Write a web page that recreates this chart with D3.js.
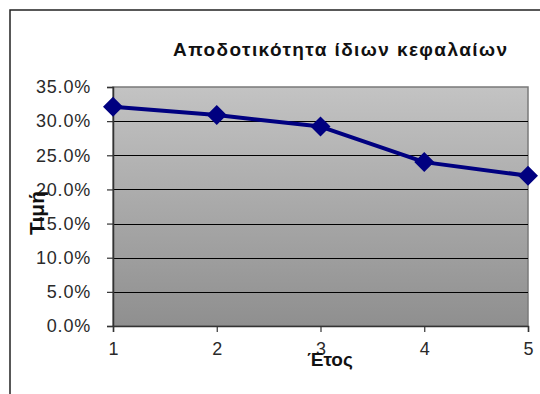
<!DOCTYPE html>
<html>
<head>
<meta charset="utf-8">
<script src="https://cdn.jsdelivr.net/npm/d3@7/dist/d3.min.js"></script>
<style>
  html, body { margin: 0; padding: 0; background: #fff; }
  svg { display: block; }
  text { font-family: "Liberation Sans", Arial, sans-serif; }
</style>
</head>
<body>
<svg id="chart" width="540" height="394"></svg>
<script>
// Return on equity by year
const years = [1, 2, 3, 4, 5];
const roe = [0.321, 0.309, 0.292, 0.240, 0.220];
const yTicks = [0, 0.05, 0.10, 0.15, 0.20, 0.25, 0.30, 0.35];
const chartTitle = "Αποδοτικότητα ίδιων κεφαλαίων";
const xTitle = "Έτος";
const yTitle = "Τιμή";

const svg = d3.select("#chart");
const plot = { left: 113, right: 528, top: 87, bottom: 326 };

const x = d3.scaleLinear().domain([1, 5]).range([plot.left, plot.right]);
const y = d3.scaleLinear().domain([0, 0.35]).range([plot.bottom, plot.top]);

// Chart frame (only top and left edges visible)
svg.append("path")
  .attr("d", "M10,394 L10,10 L540,10")
  .attr("fill", "none").attr("stroke", "#222").attr("stroke-width", 1.5);

// Plot-area gradient
const defs = svg.append("defs");
const grad = defs.append("linearGradient").attr("id", "plotBg")
  .attr("x1", 0).attr("y1", 0).attr("x2", 0).attr("y2", 1);
grad.append("stop").attr("offset", "0%").attr("stop-color", "#c3c3c3");
grad.append("stop").attr("offset", "100%").attr("stop-color", "#8f8f8f");

svg.append("rect")
  .attr("x", plot.left).attr("y", plot.top)
  .attr("width", plot.right - plot.left).attr("height", plot.bottom - plot.top)
  .attr("fill", "url(#plotBg)")
  .attr("stroke", "#7a7a7a").attr("stroke-width", 1.5);

// Horizontal gridlines
svg.append("g").selectAll("line")
  .data(yTicks.filter(d => d > 0 && d < 0.35))
  .join("line")
  .attr("x1", plot.left).attr("x2", plot.right)
  .attr("y1", d => Math.round(y(d)) + 0.5).attr("y2", d => Math.round(y(d)) + 0.5)
  .attr("stroke", "#000").attr("stroke-width", 1.2);

// Y axis
const yAxis = svg.append("g")
  .attr("transform", `translate(${plot.left},0)`)
  .call(d3.axisLeft(y).tickValues(yTicks).tickSize(6).tickPadding(16)
    .tickFormat(d => (d * 100).toFixed(1) + "%"));
yAxis.select(".domain").attr("stroke", "#333").attr("stroke-width", 1.5);
yAxis.selectAll(".tick line").attr("stroke", "#333").attr("stroke-width", 1.2);
yAxis.selectAll(".tick text")
  .attr("font-size", 18).attr("fill", "#2a2a2a").attr("letter-spacing", 0.8)
  .attr("font-family", "'Liberation Sans', Arial, sans-serif");

// X axis
const xAxis = svg.append("g")
  .attr("transform", `translate(0,${plot.bottom})`)
  .call(d3.axisBottom(x).tickValues(years).tickSize(6).tickPadding(10)
    .tickFormat(d3.format("d")));
xAxis.select(".domain").attr("stroke", "#333").attr("stroke-width", 1.5);
xAxis.selectAll(".tick line").attr("stroke", "#333").attr("stroke-width", 1.2);
xAxis.selectAll(".tick text")
  .attr("font-size", 18).attr("fill", "#2a2a2a")
  .attr("font-family", "'Liberation Sans', Arial, sans-serif");

// Data line
svg.append("path")
  .datum(years.map((d, i) => [d, roe[i]]))
  .attr("fill", "none").attr("stroke", "#000080").attr("stroke-width", 4)
  .attr("stroke-linejoin", "round")
  .attr("d", d3.line().x(d => x(d[0])).y(d => y(d[1])));

// Diamond markers
svg.append("g").selectAll("path")
  .data(years.map((d, i) => [d, roe[i]]))
  .join("path")
  .attr("transform", d => `translate(${x(d[0])},${y(d[1])})`)
  .attr("d", "M0,-10 L10,0 L0,10 L-10,0 Z")
  .attr("fill", "#000080");

// Titles
svg.append("text")
  .attr("x", 173).attr("y", 56)
  .attr("textLength", 334).attr("lengthAdjust", "spacing")
  .attr("font-size", 19).attr("font-weight", "bold").attr("fill", "#111")
  .text(chartTitle);

svg.append("text")
  .attr("x", 330).attr("y", 366).attr("text-anchor", "middle")
  .attr("font-size", 19).attr("font-weight", "bold").attr("fill", "#111")
  .text(xTitle);

svg.append("text")
  .attr("transform", "translate(44,213) rotate(-90)")
  .attr("text-anchor", "middle")
  .attr("font-size", 21).attr("font-weight", "bold").attr("fill", "#111")
  .text(yTitle);
</script>
</body>
</html>
